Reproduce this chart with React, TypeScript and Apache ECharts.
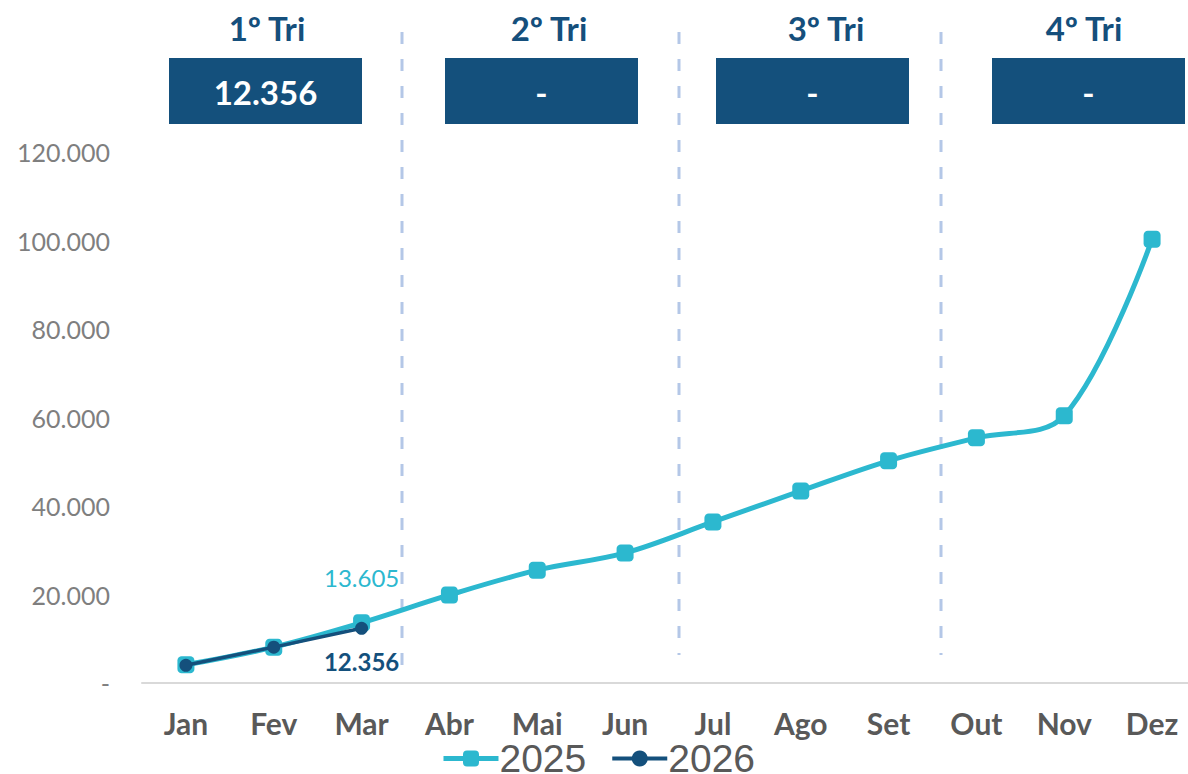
import React, { useEffect, useRef } from "react";
import * as echarts from "echarts";

const months = ["Jan", "Fev", "Mar", "Abr", "Mai", "Jun", "Jul", "Ago", "Set", "Out", "Nov", "Dez"];
const values2025 = [4100, 8100, 13605, 19900, 25500, 29400, 36400, 43400, 50200, 55400, 60400, 100300];
const values2026 = [4000, 8100, 12356, null, null, null, null, null, null, null, null, null];
const quarterNames = ["1º Tri", "2º Tri", "3º Tri", "4º Tri"];
const quarterTotals = ["12.356", "-", "-", "-"];
const yTicks = { min: 0, max: 120000, interval: 20000 };

const C2025 = "#2cb8cf";
const C2026 = "#14507c";
const BOX = "#14507c";

function fmt(v: number): string {
  if (v === 0) return "-";
  return Math.round(v).toString().replace(/\B(?=(\d{3})+(?!\d))/g, ".");
}

export default function App() {
  const ref = useRef<HTMLDivElement>(null);
  useEffect(() => {
    if (!ref.current) return;
    const chart = echarts.init(ref.current, null, { renderer: "svg" });

    const boxX = [169, 445, 716, 992];
    const headerX = [267, 549, 826, 1084];
    const dashX = [402, 679, 941];
    const dashBottom = [665, 655, 655];

    const graphics: any[] = [];
    quarterNames.forEach((q, i) => {
      graphics.push({
        type: "text",
        x: headerX[i],
        y: 28,
        style: {
          text: q,
          align: "center",
          verticalAlign: "middle",
          fill: "#154f7c",
          font: "bold 33px Lato",
        },
        silent: true,
      });
      graphics.push({
        type: "rect",
        shape: { x: boxX[i], y: 58, width: 193, height: 66 },
        style: { fill: BOX },
        silent: true,
      });
      graphics.push({
        type: "text",
        x: boxX[i] + 96.5,
        y: 92,
        style: {
          text: quarterTotals[i],
          align: "center",
          verticalAlign: "middle",
          fill: "#ffffff",
          font: "bold 33px Lato",
        },
        silent: true,
      });
    });
    dashX.forEach((x, i) => {
      graphics.push({
        type: "line",
        shape: { x1: x, y1: 32, x2: x, y2: dashBottom[i] },
        style: { stroke: "#b4c7e7", lineWidth: 3, lineDash: [12, 15] },
        silent: true,
        z: 0,
      });
    });

    chart.setOption({
      animation: false,
      grid: { left: 142, top: 152, right: 0, height: 531 },
      legend: {
        top: 739,
        left: "center",
        padding: 0,
        itemWidth: 55,
        itemHeight: 20,
        itemGap: 24,
        textStyle: {
          fontFamily: "Liberation Sans",
          fontSize: 39,
          lineHeight: 28,
          color: "#595959",
          padding: [0, 0, 0, -4],
        },
        data: [
          { name: "2025", itemStyle: { color: C2025 }, lineStyle: { width: 5, color: C2025 } },
          { name: "2026", itemStyle: { color: C2026 }, lineStyle: { width: 4, color: C2026 } },
        ],
      },
      xAxis: {
        type: "category",
        data: months,
        boundaryGap: true,
        axisLine: { show: true, lineStyle: { color: "#d9d9d9", width: 2 } },
        axisTick: { show: false },
        axisLabel: {
          margin: 27,
          fontFamily: "Lato",
          fontWeight: "bold",
          fontSize: 30,
          lineHeight: 26,
          color: "#595959",
        },
      },
      yAxis: {
        type: "value",
        min: yTicks.min,
        max: yTicks.max,
        interval: yTicks.interval,
        axisLine: { show: false },
        axisTick: { show: false },
        splitLine: { show: false },
        axisLabel: {
          margin: 32,
          fontFamily: "Lato",
          fontSize: 25,
          color: "#7f7f7f",
          formatter: (v: number) => fmt(v),
        },
      },
      series: [
        {
          name: "2025",
          type: "line",
          data: values2025,
          smooth: 0.35,
          symbol: "roundRect",
          symbolSize: 17,
          itemStyle: { color: C2025 },
          lineStyle: { color: C2025, width: 5 },
          label: {
            show: true,
            formatter: (p: any) => (p.dataIndex === 2 ? fmt(p.value) : ""),
            position: "top",
            distance: 25,
            fontFamily: "Lato",
            fontSize: 24,
            color: C2025,
          },
          z: 2,
        },
        {
          name: "2026",
          type: "line",
          data: values2026,
          smooth: false,
          symbol: "circle",
          symbolSize: 13,
          itemStyle: { color: C2026 },
          lineStyle: { color: C2026, width: 3.5 },
          label: {
            show: true,
            formatter: (p: any) => (p.dataIndex === 2 ? fmt(p.value) : ""),
            position: "bottom",
            distance: 15,
            fontFamily: "Lato",
            fontWeight: "bold",
            fontSize: 24,
            color: C2026,
          },
          z: 3,
        },
      ],
      graphic: graphics,
    });
    return () => chart.dispose();
  }, []);

  return (
    <div
      style={{
        position: "fixed",
        left: 0,
        top: 0,
        width: 1188,
        height: 774,
        overflow: "hidden",
        background: "#fff",
      }}
    >
      <div ref={ref} style={{ position: "absolute", left: 0, top: 0, width: 1196, height: 774 }} />
    </div>
  );
}
